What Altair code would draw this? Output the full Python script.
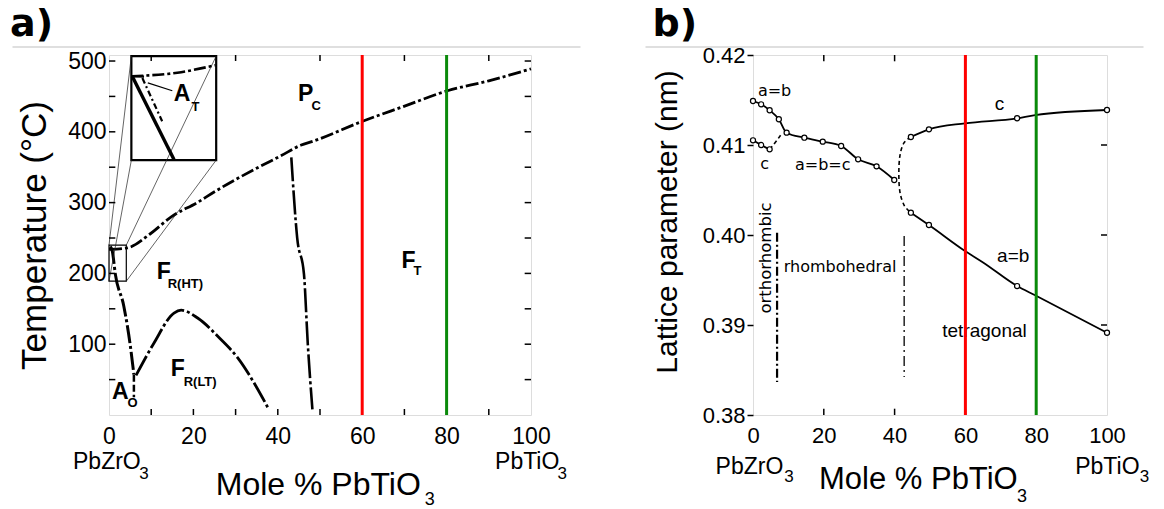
import altair as alt
import pandas as pd

FONT = "Liberation Sans"

# ================= panel a) : PbZrO3-PbTiO3 phase diagram =================
curie_x = [0, 4.3, 9.8, 15.0, 20.9, 25.2, 35.1, 40.7, 45.4, 48.5, 60.1, 69.9, 80.2, 90.0, 100]
curie_t = [234, 236, 256, 281, 300, 316, 349, 366, 381, 387, 415, 436, 458, 472, 489]

afe_x = [0.3, 0.8, 1.5, 3.5, 5.0, 5.9]
afe_t = [238, 231, 199, 154, 100, 57]

ao_x = [5.9, 5.9]
ao_t = [57, 25]

dome_x = [6.4, 10.6, 15.4, 17.1, 21.0, 26.3, 30.6, 34.9, 37.6]
dome_t = [56, 101, 144, 148, 137, 108, 80, 40, 11]

mpb_x = [43.2, 44.6, 46.2, 47.1, 48.2]
mpb_t = [364, 250, 199, 101, 8]

# inset (zoom of the region near pure PbZrO3)
inset_box = {"x": [5.3], "y": [360], "x2": [25.4], "y2": [507]}
small_box = {"x": [0.0], "y": [189], "x2": [4.1], "y2": [240]}
conn_x = [0.0, 4.1, 4.1, 0.0]
conn_t = [240, 240, 189, 189]
conn_x2 = [5.3, 25.4, 25.4, 5.3]
conn_t2 = [507, 507, 360, 360]
inset_top_x = [5.3, 16.2, 25.2]
inset_top_t = [478.5, 483.5, 494]
inset_main = {"x": [5.5], "y": [478.5], "x2": [15.4], "y2": [361]}
inset_second = {"x": [7.9], "y": [476], "x2": [12.6], "y2": [415]}
inset_bar = {"x": [5.5], "y": [478.5], "x2": [8.3], "y2": [478]}
pointer = {"x": [9.2], "y": [469], "x2": [15.0], "y2": [458]}

a_main_text = ["P", "F", "F", "F", "A", "A"]
a_main_x = [46.6, 71.0, 13.0, 16.3, 2.7, 17.3]
a_main_t = [453, 217.5, 202, 65, 32, 453]
a_sub_text = ["C", "T", "R(HT)", "R(LT)", "O", "T"]
a_sub_x = [49.1, 73.1, 18.1, 21.6, 5.6, 20.5]
a_sub_t = [436, 203, 184.6, 47, 16.5, 435.5]

a_comp_text = ["PbZrO", "PbTiO"]
a_comp_x = [-0.5, 99.1]
a_comp_t = [-76.3, -76.3]
a_comp_sub_x = [8.3, 107.4]
a_comp_sub_t = [-90.4, -90.4]
a_title_x, a_title_t = 49.6, -113
a_title_sub_x, a_title_sub_t = 76.0, -127.1

a_xticks_bottom = [10, 20, 30, 40, 50, 60, 70, 80, 90]
a_xticks_top = [10, 30, 50, 70, 90]
a_yticks = [50, 100, 150, 200, 250, 300, 350, 400, 450, 500]

# ================= panel b) : lattice parameters =================
ab_x = [0, 2.3, 4.7, 7.3, 9.5, 14.5, 19.7, 24.9, 29.7, 34.9, 39.9]
ab_v = [0.41489, 0.41452, 0.41386, 0.41286, 0.41137, 0.41081, 0.41037, 0.40989, 0.40841, 0.40763, 0.40611]
co_x = [0, 2.3, 4.7]
co_v = [0.41052, 0.41000, 0.40952]
co_dash_x = [4.7, 6.6, 7.8]
co_dash_v = [0.40952, 0.41044, 0.41108]
tc_x = [44.6, 49.7, 59.9, 74.6, 79.7, 100]
tc_v = [0.41089, 0.41174, 0.41241, 0.41297, 0.41333, 0.41389]
ta_x = [44.6, 49.7, 59.9, 65.1, 74.6, 79.7, 100]
ta_v = [0.40248, 0.40111, 0.39822, 0.39692, 0.39433, 0.39330, 0.38914]
tc_pts_x = [44.6, 49.7, 74.6, 100]
tc_pts_v = [0.41089, 0.41174, 0.41297, 0.41389]
ta_pts_x = [44.6, 49.7, 74.6, 100]
ta_pts_v = [0.40248, 0.40111, 0.39433, 0.38914]
bracket_x = [44.6, 42.6, 41.5, 41.2, 41.5, 42.7, 44.6]
bracket_v = [0.41089, 0.4102, 0.4088, 0.4068, 0.4048, 0.4033, 0.40248]
bound_x = [6.8, 42.7]
bound_top = [0.40026, 0.39989]
bound_bot = [0.38367, 0.38422]

b_dv_text = ["a=b", "c", "a=b=c", "rhombohedral"]
b_dv_x = [6.1, 3.3, 19.7, 24.6]
b_dv_v = [0.4160, 0.40786, 0.40778, 0.39644]
b_rot_text = ["orthorhombic"]
b_rot_x = [3.7]
b_rot_v = [0.39744]
b_lib_text = ["c", "a=b", "tetragonal"]
b_lib_x = [69.6, 73.5, 65.4]
b_lib_v = [0.41452, 0.39767, 0.38933]

b_comp_text = ["PbZrO", "PbTiO"]
b_comp_x = [-1.0, 100.1]
b_comp_v = [0.37349, 0.37349]
b_comp_sub_x = [10.2, 110.6]
b_comp_sub_v = [0.37256, 0.37256]
b_title_x, b_title_v = 46.7, 0.3718
b_title_sub_x, b_title_sub_v = 76.0, 0.37033

b_xticks = [20, 40, 60, 80]
b_yticks_right = [0.39, 0.40, 0.41]

marker_lines = [60, 80]
marker_colors = ["#ff0000", "#0a8a0a"]


# ---------------- helpers ----------------
def pts(xs, ys):
    return pd.DataFrame({"x": xs, "y": ys, "o": list(range(len(xs)))})


def segs(d):
    return pd.DataFrame(d)


def labels(texts, xs, ys):
    return pd.DataFrame({"x": xs, "y": ys, "t": texts})


def build_panel(X, Y):
    def line(xs, ys, **mk):
        return alt.Chart(pts(xs, ys)).mark_line(**mk).encode(x=X, y=Y, order="o:Q")

    def seg(d, **mk):
        return alt.Chart(segs(d)).mark_rule(**mk).encode(
            x=X, y=Y, x2=alt.X2("x2:Q"), y2=alt.Y2("y2:Q"))

    def text(texts, xs, ys, **mk):
        return alt.Chart(labels(texts, xs, ys)).mark_text(**mk).encode(x=X, y=Y, text="t:N")

    def dots(xs, ys):
        return alt.Chart(pts(xs, ys)).mark_point(
            shape="circle", filled=True, fill="white", stroke="black",
            strokeWidth=1.2, size=26, opacity=1).encode(x=X, y=Y)

    return line, seg, text, dots


# ================= panel a =================
xa = alt.X("x:Q", scale=alt.Scale(domain=[0, 100], nice=False, zero=False),
           axis=alt.Axis(values=[0, 20, 40, 60, 80, 100], title=None, grid=False,
                         ticks=False, tickSize=0, domain=False, labelFont=FONT,
                         labelFontSize=23, labelColor="black", labelPadding=10,
                         labelFlush=False, labelOverlap=False))
ya = alt.Y("y:Q", scale=alt.Scale(domain=[0, 508.5], nice=False, zero=False),
           axis=alt.Axis(values=[100, 200, 300, 400, 500], title="Temperature (°C)",
                         grid=False, ticks=False, tickSize=0, domain=False,
                         labelFont=FONT, labelFontSize=23, labelColor="black",
                         labelPadding=3, titleFont=FONT, titleFontSize=35,
                         titleFontWeight="normal", titleColor="black",
                         titleX=-74.5, titleY=180, titleBaseline="middle"))
line, seg, text, dots = build_panel(xa, ya)

DASH_A = dict(color="black", strokeWidth=2.8, strokeDash=[13, 3, 3, 3], interpolate="monotone")
layers_a = [
    line(curie_x, curie_t, **DASH_A),
    line(afe_x, afe_t, color="black", strokeWidth=3, strokeDash=[18, 3, 3, 3], interpolate="monotone"),
    line(ao_x, ao_t, color="black", strokeWidth=2.5, strokeDash=[7, 3]),
    line(dome_x, dome_t, color="black", strokeWidth=2.8, strokeDash=[22, 3, 3, 3], interpolate="monotone"),
    line(mpb_x, mpb_t, color="black", strokeWidth=2.6, strokeDash=[24, 3, 3, 3], interpolate="monotone"),
    # inset
    alt.Chart(segs(inset_box)).mark_rect(fillOpacity=0, stroke="black", strokeWidth=2.2).encode(
        x=xa, y=ya, x2=alt.X2("x2:Q"), y2=alt.Y2("y2:Q")),
    alt.Chart(segs(small_box)).mark_rect(fillOpacity=0, stroke="black", strokeWidth=1.2).encode(
        x=xa, y=ya, x2=alt.X2("x2:Q"), y2=alt.Y2("y2:Q")),
    seg({"x": conn_x, "y": conn_t, "x2": conn_x2, "y2": conn_t2}, color="#222222", strokeWidth=0.7),
    line(inset_top_x, inset_top_t, color="black", strokeWidth=2.6, strokeDash=[12, 3, 3, 3], interpolate="monotone"),
    seg(inset_main, color="black", strokeWidth=3.4),
    seg(inset_second, color="black", strokeWidth=2.2, strokeDash=[6, 3, 2, 3]),
    seg(inset_bar, color="black", strokeWidth=2.2),
    seg(pointer, color="black", strokeWidth=1.3),
    # inward ticks
    seg({"x": a_xticks_bottom, "y": [0] * len(a_xticks_bottom), "x2": a_xticks_bottom,
         "y2": [8.5] * len(a_xticks_bottom)}, color="black", strokeWidth=1.5),
    seg({"x": a_xticks_top, "y": [508.5] * len(a_xticks_top), "x2": a_xticks_top,
         "y2": [500] * len(a_xticks_top)}, color="black", strokeWidth=1.5),
    seg({"x": [0] * len(a_yticks), "y": a_yticks, "x2": [1.5] * len(a_yticks), "y2": a_yticks},
        color="black", strokeWidth=1.5),
    seg({"x": [98.5] * len(a_yticks), "y": a_yticks, "x2": [100] * len(a_yticks), "y2": a_yticks},
        color="black", strokeWidth=1.5),
    # region labels
    text(a_main_text, a_main_x, a_main_t, font=FONT, fontWeight="bold", fontSize=23,
         align="center", baseline="middle", color="black"),
    text(a_sub_text, a_sub_x, a_sub_t, font=FONT, fontWeight="bold", fontSize=13,
         align="center", baseline="middle", color="black"),
    # axis extra text
    text(a_comp_text, a_comp_x, a_comp_t, font=FONT, fontSize=23, align="center",
         baseline="alphabetic", color="black"),
    text(["3", "3"], a_comp_sub_x, a_comp_sub_t, font=FONT, fontSize=17, align="center",
         baseline="alphabetic", color="black"),
    text(["Mole % PbTiO"], [a_title_x], [a_title_t], font=FONT, fontSize=32, align="center",
         baseline="alphabetic", color="black"),
    text(["3"], [a_title_sub_x], [a_title_sub_t], font=FONT, fontSize=18, align="center",
         baseline="alphabetic", color="black"),
]
for xv, col in zip(marker_lines, marker_colors):
    layers_a.append(alt.Chart(pd.DataFrame({"x": [xv]})).mark_rule(color=col, strokeWidth=3).encode(x=xa))

deco = pd.DataFrame({"k": [0]})
layers_a += [
    # layout anchor (invisible) at the page's top-left corner
    alt.Chart(deco).mark_rule(opacity=0, strokeWidth=1).encode(
        x=alt.value(-108.5), x2=alt.value(-107.5), y=alt.value(-54)),
    alt.Chart(deco).mark_rule(color="#d4d4d4", strokeWidth=1.5).encode(
        x=alt.value(-96.5), x2=alt.value(471.5), y=alt.value(-8)),
    alt.Chart(pd.DataFrame({"t": ["a)"]})).mark_text(
        font="DejaVu Sans", fontWeight="bold", fontSize=38, align="left", baseline="alphabetic",
        color="black").encode(x=alt.value(-99), y=alt.value(-19), text="t:N"),
]
panel_a = alt.layer(*layers_a).properties(width=422, height=360)

# ================= panel b =================
xb = alt.X("x:Q", scale=alt.Scale(domain=[0, 100], nice=False, zero=False),
           axis=alt.Axis(values=[0, 20, 40, 60, 80, 100], title=None, grid=False,
                         ticks=False, tickSize=0, domain=False, labelFont=FONT,
                         labelFontSize=22, labelColor="black", labelPadding=10,
                         labelFlush=False, labelOverlap=False))
yb = alt.Y("y:Q", scale=alt.Scale(domain=[0.38, 0.42], nice=False, zero=False),
           axis=alt.Axis(values=[0.38, 0.39, 0.40, 0.41, 0.42], format=".2f",
                         title="Lattice parameter (nm)", grid=False, ticks=True,
                         tickSize=6, tickWidth=1.5, tickColor="black", domain=False,
                         labelFont=FONT, labelFontSize=22, labelColor="black",
                         labelPadding=2, titleFont=FONT, titleFontSize=30,
                         titleFontWeight="normal", titleColor="black",
                         titleX=-86, titleY=166.5, titleBaseline="middle"))
line, seg, text, dots = build_panel(xb, yb)

LINE_B = dict(color="black", strokeWidth=1.8, interpolate="monotone")
layers_b = [
    line(ab_x, ab_v, **LINE_B),
    line(co_x, co_v, **LINE_B),
    line(co_dash_x, co_dash_v, color="black", strokeWidth=1.6, strokeDash=[4, 3], interpolate="monotone"),
    line(tc_x, tc_v, **LINE_B),
    line(ta_x, ta_v, **LINE_B),
    line(bracket_x, bracket_v, color="black", strokeWidth=1.6, strokeDash=[4, 3], interpolate="cardinal"),
    seg({"x": bound_x[:1], "y": bound_top[:1], "x2": bound_x[:1], "y2": bound_bot[:1]},
        color="black", strokeWidth=2.2, strokeDash=[9, 3, 2, 3]),
    seg({"x": bound_x[1:], "y": bound_top[1:], "x2": bound_x[1:], "y2": bound_bot[1:]},
        color="black", strokeWidth=1.3, strokeDash=[10, 4, 2, 4]),
    dots(ab_x, ab_v),
    dots(co_x, co_v),
    dots(tc_pts_x, tc_pts_v),
    dots(ta_pts_x, ta_pts_v),
    # inward ticks
    seg({"x": b_xticks, "y": [0.38] * len(b_xticks), "x2": b_xticks,
         "y2": [0.3807] * len(b_xticks)}, color="black", strokeWidth=1.5),
    seg({"x": b_xticks, "y": [0.42] * len(b_xticks), "x2": b_xticks,
         "y2": [0.4193] * len(b_xticks)}, color="black", strokeWidth=1.5),
    seg({"x": [98.3] * len(b_yticks_right), "y": b_yticks_right, "x2": [100] * len(b_yticks_right),
         "y2": b_yticks_right}, color="black", strokeWidth=1.5),
    # labels
    text(b_dv_text, b_dv_x, b_dv_v, font="DejaVu Sans", fontSize=16, align="center",
         baseline="middle", color="black"),
    text(b_rot_text, b_rot_x, b_rot_v, font="DejaVu Sans", fontSize=16.5, align="center",
         baseline="middle", angle=270, color="black"),
    text(b_lib_text, b_lib_x, b_lib_v, font=FONT, fontSize=19, align="center",
         baseline="middle", color="black"),
    text(b_comp_text, b_comp_x, b_comp_v, font=FONT, fontSize=23, align="center",
         baseline="alphabetic", color="black"),
    text(["3", "3"], b_comp_sub_x, b_comp_sub_v, font=FONT, fontSize=17, align="center",
         baseline="alphabetic", color="black"),
    text(["Mole % PbTiO"], [b_title_x], [b_title_v], font=FONT, fontSize=31, align="center",
         baseline="alphabetic", color="black"),
    text(["3"], [b_title_sub_x], [b_title_sub_v], font=FONT, fontSize=18, align="center",
         baseline="alphabetic", color="black"),
]
for xv, col in zip(marker_lines, marker_colors):
    layers_b.append(alt.Chart(pd.DataFrame({"x": [xv]})).mark_rule(color=col, strokeWidth=3).encode(x=xb))
layers_b += [
    alt.Chart(deco).mark_rule(color="#d4d4d4", strokeWidth=1.5).encode(
        x=alt.value(-107.5), x2=alt.value(390.5), y=alt.value(-8)),
    alt.Chart(pd.DataFrame({"t": ["b)"]})).mark_text(
        font="DejaVu Sans", fontWeight="bold", fontSize=38, align="left", baseline="alphabetic",
        color="black").encode(x=alt.value(-100.5), y=alt.value(-19), text="t:N"),
]
panel_b = alt.layer(*layers_b).properties(width=354, height=360)

chart = alt.hconcat(panel_a, panel_b, spacing=222, bounds="flush").properties(
    padding={"left": 0, "top": 0, "right": 5, "bottom": 0}
).configure_view(stroke="black", strokeWidth=2).configure(background="white")

chart.save("out.html", embed_options={"renderer": "svg", "actions": False})
